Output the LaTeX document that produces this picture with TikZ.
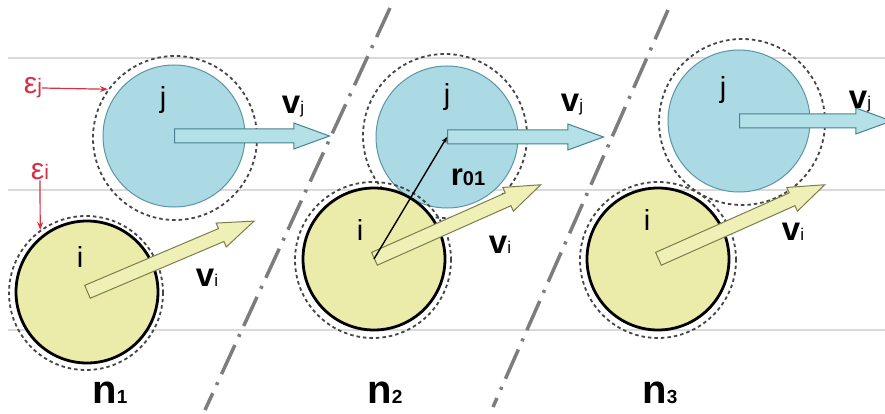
\documentclass[tikz,border=0pt]{standalone}
\usepackage{fontspec}
\setmainfont{Liberation Sans}
\usetikzlibrary{shapes.arrows,arrows.meta}
\definecolor{bluefill}{RGB}{172,218,228}
\definecolor{blueedge}{RGB}{90,150,165}
\definecolor{abluefill}{RGB}{180,224,232}
\definecolor{ablueedge}{RGB}{70,130,145}
\definecolor{yelfill}{RGB}{236,236,170}
\definecolor{ayelfill}{RGB}{238,240,182}
\definecolor{ayeledge}{RGB}{125,125,75}
\definecolor{redlab}{RGB}{210,50,70}
\definecolor{gridgray}{RGB}{218,218,218}
\definecolor{ddgray}{RGB}{125,125,125}
\definecolor{ringgray}{RGB}{70,70,70}
\newcommand\vlab[1]{{\fontsize{33}{33}\selectfont\bfseries v}{\fontsize{17}{17}\selectfont #1}}
\newcommand\nlab[1]{{\fontsize{40}{40}\selectfont\bfseries n}{\fontsize{19}{19}\selectfont\bfseries #1}}
\newcommand\elab[1]{\color{redlab}{\fontsize{30}{30}\selectfont ε}{\fontsize{21}{21}\selectfont #1}}
\tikzset{
  gridline/.style={gridgray, line width=1.8pt},
  dashdotline/.style={ddgray, line width=3.5pt, dash pattern=on 32pt off 9pt on 3pt off 9pt},
  ring/.style={circle, draw=ringgray, line width=1.8pt, dash pattern=on 3.5pt off 3pt, minimum size=#1, inner sep=0pt},
  pj/.style={circle, draw=blueedge, line width=1pt, fill=bluefill, minimum size=142pt, inner sep=0pt},
  pi/.style={circle, draw=black, line width=2.8pt, fill=yelfill, minimum size=142pt, inner sep=0pt},
  blkarrow/.style={single arrow, inner sep=6.5pt, single arrow head extend=6pt, single arrow tip angle=40, minimum height=#1, anchor=tail, line width=1pt},
  jarrow/.style={blkarrow=#1, draw=ablueedge, fill=abluefill},
  iarrow/.style={blkarrow=#1, draw=ayeledge, fill=ayelfill},
  lab/.style={inner sep=0pt, font=\fontsize{29}{29}\selectfont},
  redarrow/.style={redlab, line width=1.2pt, -{Stealth[length=8pt,width=6pt]}},
}
\begin{document}
\begin{tikzpicture}[x=1pt,y=-1pt]
\useasboundingbox (0,0) rectangle (885,414);
\fill[white] (0,0) rectangle (885,414);
% horizontal lines
\coordinate (g1a) at (8,58);  \coordinate (g1b) at (885,58);
\coordinate (g2a) at (8,190); \coordinate (g2b) at (885,190);
\coordinate (g3a) at (8,330); \coordinate (g3b) at (885,330);
\draw[gridline] (g1a) -- (g1b);
\draw[gridline] (g2a) -- (g2b);
\draw[gridline] (g3a) -- (g3b);
% dash-dot separators
\coordinate (d1a) at (390,8);  \coordinate (d1b) at (205,410);
\coordinate (d2a) at (668,10); \coordinate (d2b) at (493,407);
\draw[dashdotline] (d1a) -- (d1b);
\draw[dashdotline] (d2a) -- (d2b);

% ---------- panel 1 ----------
\node[ring=164pt] (dj1) at (175,138) {};
\node[pj] (j1) at (174,136) {};
\node[ring=154pt] (di1) at (86,293) {};
\node[pi] (i1) at (87,292) {};
\node[jarrow=155pt] (aj1) at (j1.center) {};
\node[iarrow=181pt, rotate=23] (ai1) at (i1.center) {};
\node[lab] (tj1) at (163,100) {j};
\node[lab] (ti1) at (80,257) {i};
\node[inner sep=0pt] (vj1) at (293,107) {\vlab{j}};
\node[inner sep=0pt] (vi1) at (207,278) {\vlab{i}};
\node[inner sep=0pt] (n1) at (110,393) {\nlab{1}};
\node[inner sep=0pt] (ej) at (33,88) {\elab{j}};
\node[inner sep=0pt] (ei) at (40,172) {\elab{i}};
\draw[redarrow] (ej.east) -- (dj1.144);
\draw[redarrow] (ei.south) -- (di1.126);

% ---------- panel 2 ----------
\node[ring=164pt] (dj2) at (445,136) {};
\node[pj] (j2) at (447,137) {};
\node[ring=156pt] (di2) at (373,260) {};
\node[pi] (i2) at (374,259) {};
\node[jarrow=156pt] (aj2) at (j2.center) {};
\node[iarrow=182pt, rotate=24] (ai2) at (i2.center) {};
\draw[black, line width=1.4pt, -{Stealth[length=6pt,width=5pt]}] (i2.center) -- (j2.center);
\node[lab] (tj2) at (447,97) {j};
\node[lab] (ti2) at (360,230) {i};
\node[inner sep=0pt] (vj2) at (572,105) {\vlab{j}};
\node[inner sep=0pt] (vi2) at (500,245) {\vlab{i}};
\node[inner sep=0pt] (r01) at (468,177) {{\fontsize{31}{31}\selectfont\bfseries r}{\fontsize{20}{20}\selectfont\bfseries 01}};
\node[inner sep=0pt] (n2) at (385,393) {\nlab{2}};

% ---------- panel 3 ----------
\node[ring=166pt] (dj3) at (742,122) {};
\node[pj] (j3) at (739,121) {};
\node[ring=156pt] (di3) at (658,260) {};
\node[pi] (i3) at (658,259) {};
\node[jarrow=152pt] (aj3) at (j3.center) {};
\node[iarrow=182pt, rotate=24] (ai3) at (i3.center) {};
\node[lab] (tj3) at (723,90) {j};
\node[lab] (ti3) at (647,220) {i};
\node[inner sep=0pt] (vj3) at (860,102) {\vlab{j}};
\node[inner sep=0pt] (vi3) at (793,232) {\vlab{i}};
\node[inner sep=0pt] (n3) at (660,393) {\nlab{3}};
\end{tikzpicture}
\end{document}
